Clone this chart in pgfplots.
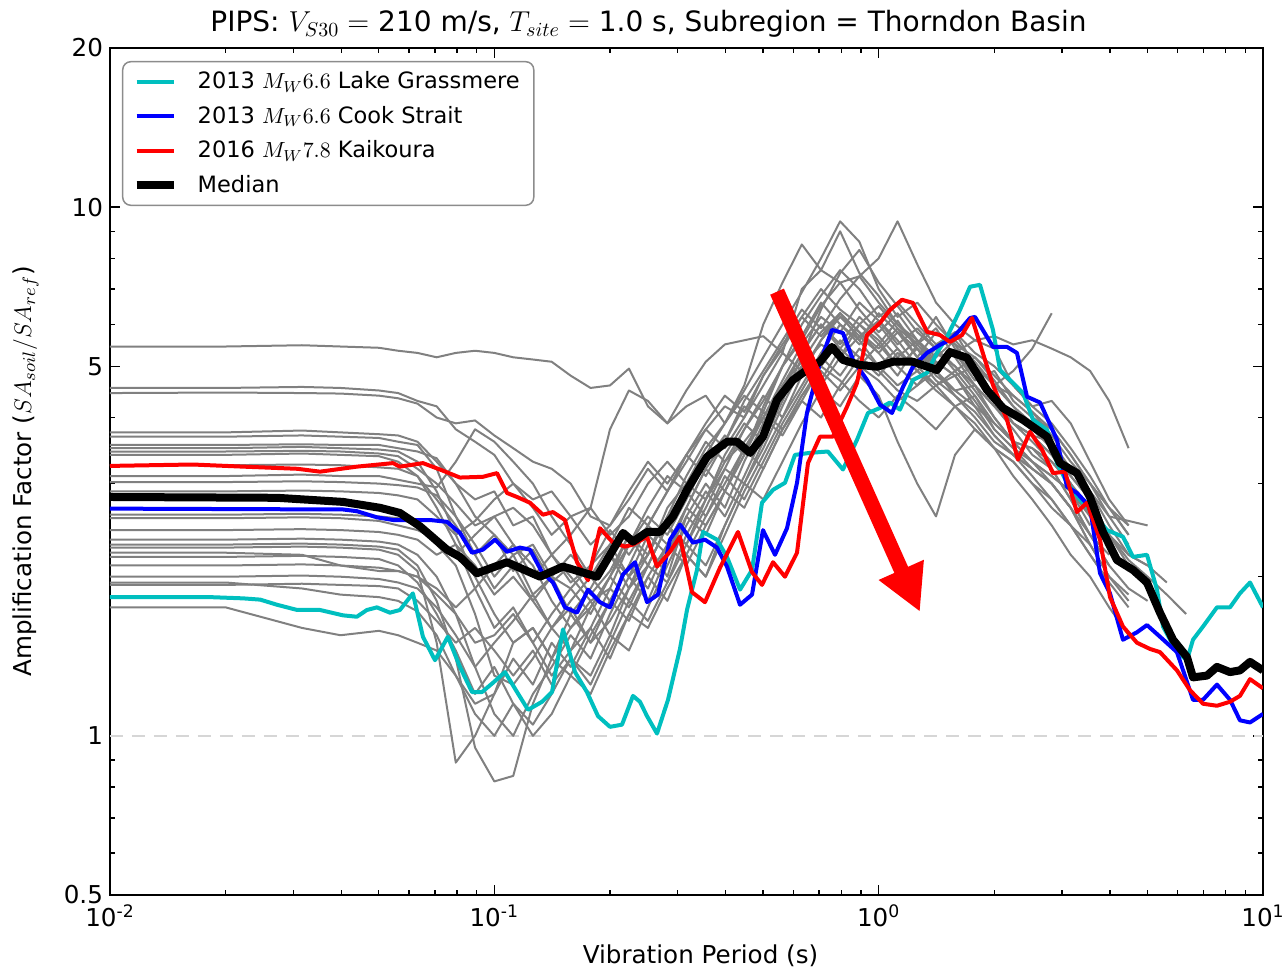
\documentclass[border=0pt]{standalone}
\usepackage[no-math]{fontspec}
\setmainfont{DejaVu Sans}
\usepackage{pgfplots}
\usepackage{pgfplotstable}
\pgfplotsset{compat=1.18}
\usetikzlibrary{arrows.meta}

\definecolor{mplcyan}{rgb}{0,0.75,0.75}
\definecolor{mplgray}{rgb}{0.5,0.5,0.5}
\definecolor{dashgray}{rgb}{0.84,0.84,0.84}
\definecolor{legframe}{rgb}{0.55,0.55,0.55}

\pgfplotstableread{
name 0.01 0.02 0.0316 0.0398 0.0501 0.0562 0.0631 0.0708 0.0794 0.0891 0.1 0.112 0.126 0.141 0.158 0.178 0.2 0.224 0.251 0.282 0.316 0.355 0.398 0.447 0.501 0.562 0.631 0.708 0.794 0.891 1 1.12 1.26 1.41 1.58 1.78 2 2.24 2.51 2.82 3.16 3.55 3.98 4.47 5.01 5.62 6.31
g1 5.45 5.45 5.48 5.45 5.42 5.35 5.3 5.2 5.3 5.35 5.3 5.2 5.15 5.1 4.8 4.55 4.6 4.95 4.2 3.9 4.5 5.1 5.5 5.6 5.7 5.3 7.0 7.6 7.2 7.4 8.0 9.4 7.8 6.6 6.0 5.6 5.4 4.6 4.2 4.3 3.9 3.3 2.8 2.5 nan nan nan
g2 4.55 4.55 4.57 4.55 4.5 4.45 4.3 4.2 3.8 3.6 3.4 3.0 2.8 2.9 2.6 2.7 3.8 4.5 4.3 3.9 4.2 4.4 3.9 4.6 6.0 7.2 8.5 7.6 9.0 7.5 6.8 6.0 5.5 6.2 5.4 5.0 4.6 4.2 3.9 3.5 3.1 2.8 2.4 nan nan nan nan
g3 4.45 4.46 4.45 4.44 4.4 4.35 4.25 4.0 3.9 3.95 3.7 3.5 3.3 3.2 3.0 2.6 2.5 2.8 3.2 2.9 3.3 3.8 4.2 4.0 4.8 5.5 6.2 7.0 6.4 6.0 6.5 5.9 5.2 5.8 5.5 4.8 4.4 3.9 3.7 3.6 3.2 2.9 2.6 2.3 nan nan nan
g4 3.75 3.75 3.78 3.75 3.72 3.7 3.6 3.3 3.0 2.6 2.4 2.2 2.3 2.0 1.9 2.1 2.3 2.0 2.2 2.7 3.0 2.8 3.3 3.6 4.0 4.6 5.1 5.8 6.3 5.6 5.0 5.4 4.9 5.3 5.0 4.5 4.0 3.6 3.5 3.2 2.8 2.4 2.1 nan nan nan nan
g5 3.68 3.68 3.7 3.68 3.66 3.6 3.55 3.2 2.6 2.2 1.9 2.1 1.8 1.6 1.75 1.5 1.65 1.9 2.1 1.95 2.4 2.8 3.2 3.0 3.5 4.2 5.0 5.5 5.2 6.0 5.6 5.0 4.6 5.1 4.8 4.2 3.7 3.4 3.2 3.0 2.7 2.3 2.0 1.85 nan nan nan
g6 3.55 3.55 3.56 3.55 3.55 3.5 3.45 3.35 3.0 2.8 2.9 2.5 2.6 2.2 2.4 2.7 2.4 2.6 3.0 3.3 3.0 3.5 3.9 4.4 4.1 5.0 5.6 6.5 7.2 6.4 5.8 6.3 5.6 5.0 5.3 4.7 4.9 4.3 4.0 3.8 3.4 3.0 2.6 2.55 2.5 nan nan
g7 3.5 3.5 3.52 3.5 3.48 3.45 3.3 2.9 2.4 2.0 1.7 1.5 1.6 1.4 1.6 1.8 1.55 1.9 2.3 2.0 2.6 3.0 2.7 3.3 3.9 4.5 5.3 6.0 5.4 5.0 5.5 6.1 5.4 4.9 4.5 4.6 4.0 3.6 3.3 3.1 2.9 2.5 nan nan nan nan nan
g8 3.45 3.45 3.46 3.45 3.42 3.38 3.2 3.0 2.75 2.5 2.6 2.3 2.0 2.2 1.95 2.1 2.45 2.2 2.5 2.9 3.4 3.1 3.6 4.3 4.9 5.6 6.4 5.9 6.7 7.4 6.6 6.0 5.6 5.2 5.6 5.1 4.6 4.4 4.1 3.7 3.3 3.0 2.7 2.5 nan nan nan
g9 3.4 3.4 3.42 3.4 3.38 3.3 3.1 2.7 2.3 1.9 1.6 1.75 1.5 1.7 1.9 1.7 2.0 2.4 2.1 2.5 2.3 2.8 3.4 3.9 3.6 4.4 5.0 4.6 5.2 5.7 5.3 4.8 5.5 5.9 5.2 4.6 4.2 3.8 3.4 3.2 2.8 2.4 2.2 nan nan nan nan
g10 3.1 3.1 3.12 3.1 3.1 3.05 3.0 2.95 3.3 3.8 3.6 3.3 3.0 2.6 2.3 2.0 2.2 1.9 2.2 2.6 2.9 2.6 3.0 3.5 4.0 4.7 5.5 6.2 5.8 6.6 6.1 5.5 5.9 5.4 4.9 5.2 4.7 4.2 3.8 3.5 3.2 2.9 2.5 2.2 2.1 nan nan
g11 3.02 3.02 3.03 3.02 3.0 2.98 2.95 2.85 2.6 2.3 2.0 2.2 1.85 2.0 1.7 1.9 2.2 2.0 2.4 2.2 2.7 3.2 2.9 3.4 4.1 3.8 4.4 5.0 5.6 5.2 4.8 5.3 5.0 4.6 4.9 4.4 3.9 3.6 3.5 3.3 3.0 2.6 2.3 2.05 nan nan nan
g12 2.62 2.62 2.63 2.62 2.6 2.58 2.5 2.3 2.1 1.7 1.3 1.25 1.4 1.6 1.45 1.75 2.0 1.8 2.1 2.5 2.2 2.6 3.1 2.8 3.3 3.9 4.5 5.2 4.8 5.4 5.0 4.6 4.9 4.5 4.2 4.4 3.8 3.5 3.2 3.0 2.7 2.3 2.0 1.8 nan nan nan
g13 2.58 2.58 2.59 2.58 2.55 2.5 2.45 2.35 2.2 2.4 2.6 2.7 2.5 2.2 2.0 1.8 1.9 2.3 2.6 2.4 2.8 3.3 3.7 3.4 4.2 5.0 6.0 6.8 7.6 7.0 6.2 6.6 6.0 5.5 5.8 5.3 5.0 4.6 4.2 3.9 3.5 3.1 2.7 2.4 nan nan nan
g14 2.35 2.35 2.36 2.35 2.33 2.3 2.2 2.0 1.7 1.35 1.1 1.0 1.2 1.35 1.55 1.4 1.7 2.0 1.8 2.2 2.6 2.4 2.9 3.5 3.2 3.8 4.4 4.9 4.5 5.0 4.7 4.3 4.6 4.9 4.4 4.0 3.6 3.4 3.1 2.8 2.5 2.2 1.95 nan nan nan nan
g15 2.3 2.3 2.31 2.3 2.28 2.25 2.1 1.8 1.4 0.95 0.82 0.84 1.15 1.4 1.3 1.55 1.8 1.65 2.0 2.3 2.1 2.5 2.9 2.7 3.2 3.8 4.3 4.0 4.6 5.2 4.9 4.5 4.3 4.6 4.2 3.8 3.5 3.3 3.0 2.7 2.5 2.3 nan nan nan nan nan
g16 2.27 2.27 2.28 2.27 2.25 2.2 2.05 1.5 0.89 1.0 1.2 1.5 1.6 1.4 1.7 1.5 1.8 2.1 2.5 2.3 2.7 3.2 3.6 4.2 3.9 4.6 5.3 6.0 5.5 6.2 5.7 5.2 5.6 5.1 4.8 5.0 4.4 3.9 3.7 3.4 3.1 2.8 2.4 2.1 1.9 nan nan
g17 2.22 2.22 2.2 2.1 2.05 2.05 2.0 1.85 1.7 1.5 1.55 1.7 1.5 1.3 1.45 1.6 1.4 1.7 2.0 1.8 2.2 2.0 2.5 3.0 3.6 4.3 5.2 6.4 7.5 8.3 7.2 6.5 5.8 5.4 5.0 4.6 4.2 3.9 3.7 3.4 3.0 2.6 2.3 nan nan nan nan
g18 2.18 2.18 2.19 2.18 2.16 2.1 1.95 1.7 1.45 1.2 1.35 1.15 1.0 1.1 1.3 1.2 1.45 1.7 1.6 1.9 2.2 2.0 2.4 2.9 3.4 4.0 4.6 5.3 6.0 5.6 6.3 5.8 5.4 5.0 5.3 4.8 4.3 3.9 3.6 3.3 3.0 2.7 2.4 2.2 2.1 1.95 nan
g19 2.1 2.1 2.11 2.1 2.08 2.05 2.0 1.9 1.75 1.9 2.1 2.3 2.1 1.8 1.6 1.75 2.0 2.3 2.7 3.1 2.9 3.4 3.9 4.5 5.2 6.0 6.9 8.0 9.4 8.6 7.0 6.2 6.6 6.0 5.5 5.2 4.8 4.4 4.1 3.8 3.4 3.0 2.7 2.4 nan nan nan
g20 1.95 1.95 1.9 1.85 1.83 1.8 1.72 1.55 1.3 1.15 1.2 1.4 1.25 1.5 1.35 1.6 1.9 1.75 2.1 2.5 2.3 2.7 3.2 3.8 4.4 4.0 4.8 5.6 6.3 5.8 5.3 5.8 5.2 4.7 4.4 4.1 3.7 3.4 3.2 3.0 2.7 2.4 2.1 1.9 1.8 nan nan
g21 1.93 1.93 1.94 1.93 1.92 1.9 1.8 1.65 1.5 1.6 1.45 1.3 1.45 1.25 1.4 1.3 1.55 1.45 1.75 2.1 2.5 2.9 2.6 3.1 3.7 4.4 5.0 4.7 5.4 6.0 5.5 5.0 5.4 4.8 4.5 4.2 3.9 3.6 3.3 3.0 2.7 nan nan nan nan nan nan
g22 1.75 1.75 1.6 1.55 1.58 1.55 1.5 1.45 1.3 1.1 1.0 1.15 1.05 1.2 1.4 1.25 1.5 1.8 1.65 1.95 2.3 2.1 2.5 3.0 2.8 3.3 3.9 4.5 4.2 4.8 4.4 3.6 3.0 2.6 3.4 3.8 3.5 3.3 3.0 2.8 2.5 2.2 1.95 1.75 nan nan nan
g23 2.45 2.45 2.46 2.45 2.43 2.4 2.35 2.2 2.3 2.1 1.85 2.0 1.8 2.0 2.2 2.0 2.3 2.7 2.5 2.9 3.4 3.8 3.5 4.0 4.6 5.3 4.9 5.6 6.2 5.7 6.1 5.6 5.0 5.4 5.8 5.0 4.6 4.9 5.4 6.3 nan nan nan nan nan nan nan
g24 2.9 2.9 2.91 2.9 2.88 2.85 2.8 2.6 2.4 2.55 2.8 3.0 2.7 2.4 2.6 2.3 2.5 2.9 3.3 3.0 3.4 3.9 4.4 4.1 4.8 5.4 6.2 5.7 6.3 5.8 5.4 5.9 5.5 5.0 5.3 5.6 5.7 5.5 5.6 5.4 5.2 4.9 4.3 3.5 nan nan nan
g25 3.25 3.25 3.26 3.25 3.22 3.2 3.1 2.8 2.5 2.2 2.4 2.05 2.25 1.95 2.1 1.85 2.05 2.4 2.2 2.6 3.1 3.6 3.3 3.8 4.3 5.0 5.7 6.6 6.0 5.5 6.0 5.4 4.9 4.6 4.8 4.3 3.8 3.5 3.3 3.1 2.9 2.6 2.4 2.15 2.0 1.85 1.7
g26 2.0 2.0 2.01 2.0 1.98 1.95 1.9 1.75 1.55 1.35 1.5 1.65 1.85 1.6 1.8 2.0 1.8 2.1 1.9 2.3 2.7 2.5 2.9 3.4 4.0 3.7 4.3 5.0 4.7 4.3 4.0 4.4 4.1 3.8 4.2 3.9 3.5 3.1 2.8 2.5 2.2 2.0 1.75 1.55 nan nan nan
}\grayraw
\pgfplotstabletranspose[colnames from=name, input colnames to=T]\graytab\grayraw

\begin{document}
\begin{tikzpicture}
\begin{axis}[
  scale only axis, width=576.5pt, height=423.5pt,
  xmode=log, ymode=log,
  xmin=0.01, xmax=10, ymin=0.5, ymax=20,
  xtick={0.01,0.1,1,10},
  xticklabels={10\textsuperscript{-2},10\textsuperscript{-1},10\textsuperscript{0},10\textsuperscript{1}},
  minor xtick={0.02,0.03,0.04,0.05,0.06,0.07,0.08,0.09,0.2,0.3,0.4,0.5,0.6,0.7,0.8,0.9,2,3,4,5,6,7,8,9},
  ytick={0.5,1,5,10,20},
  yticklabels={0.5,1,5,10,20},
  minor ytick={0.6,0.7,0.8,0.9,2,3,4,6,7,8,9},
  tick align=inside,
  major tick length=5pt, minor tick length=2.5pt,
  every tick/.style={black, line width=0.75pt},
  axis line style={black, line width=1pt},
  ticklabel style={font=\fontsize{12.3}{14}\selectfont},
  xticklabel style={yshift=-1.5pt},
  xlabel={Vibration Period (s)},
  ylabel={Amplification Factor ($SA_{soil}/SA_{ref}$)},
  every axis x label/.style={at={(axis description cs:0.5,0)}, anchor=base, yshift=-34pt, xshift=7pt, font=\fontsize{12.3}{14}\selectfont},
  every axis y label/.style={at={(axis description cs:-0.0685,0.5)}, anchor=base, rotate=90, font=\fontsize{12.3}{14}\selectfont},
  title={PIPS: $V_{S30} =$ 210 m/s, $T_{site} =$ 1.0 s, Subregion = Thorndon Basin},
  every axis title/.style={at={(axis description cs:0.5,1)}, anchor=base, yshift=8pt, xshift=-19pt, font=\fontsize{14}{16}\selectfont},
  legend cell align=left,
  legend style={at={(axis description cs:0.0104,0.9847)}, anchor=north west,
    draw=legframe, line width=0.75pt, rounded corners=4pt, fill=white,
    font=\fontsize{11.25}{13}\selectfont,
    inner xsep=5pt, inner ysep=3pt, row sep=3.2pt, column sep=8pt},
  legend image code/.code={\draw[#1] (0pt,0pt) -- (18.5pt,0pt);},
]
\addplot[forget plot, dashgray, line width=1pt, dash pattern=on 6.5pt off 4.5pt] coordinates {(0.01,1) (10,1)};

\pgfplotsinvokeforeach{1,...,26}{
  \addplot[forget plot, mplgray, line width=1pt, line join=round] table[x=T, y=g#1] {\graytab};
}

\addplot[mplcyan, line width=2pt, line join=round] coordinates {
(0.01,1.83) (0.0182,1.83) (0.0222,1.82) (0.0246,1.81) (0.0272,1.77) (0.0307,1.73) (0.0352,1.73) (0.0404,1.69) (0.0439,1.68) (0.0466,1.73) (0.0495,1.75) (0.0535,1.71) (0.0568,1.73) (0.0614,1.86) (0.0652,1.54) (0.0701,1.39) (0.0757,1.54) (0.0814,1.35) (0.0875,1.21) (0.0929,1.21) (0.0992,1.26) (0.1066,1.32) (0.1146,1.21) (0.1224,1.12) (0.1331,1.16) (0.1413,1.21) (0.1509,1.59) (0.1622,1.32) (0.1742,1.21) (0.1861,1.09) (0.2000,1.04) (0.2149,1.05) (0.2295,1.19) (0.2393,1.16) (0.2496,1.09) (0.2650,1.01) (0.2831,1.17) (0.3041,1.46) (0.3172,1.73) (0.3368,2.06) (0.3491,2.43) (0.3797,2.35) (0.4031,2.18) (0.4358,1.89) (0.4683,2.06) (0.4971,2.76) (0.5311,2.92) (0.5705,3.01) (0.6058,3.40) (0.6626,3.43) (0.7380,3.45) (0.8075,3.19) (0.8783,3.63) (0.9380,4.08) (1.008,4.17) (1.070,4.27) (1.136,4.14) (1.228,4.71) (1.336,4.86) (1.418,5.30) (1.506,5.68) (1.628,6.39) (1.729,7.07) (1.835,7.13) (1.984,5.86) (2.069,4.92) (2.237,4.65) (2.375,4.45) (2.522,3.96) (2.742,3.79) (2.911,3.28) (3.090,3.01) (3.341,2.80) (3.612,2.64) (3.928,2.45) (4.322,2.38) (4.589,2.18) (4.991,2.20) (5.299,1.89) (5.493,1.61) (5.973,1.44) (6.341,1.39) (6.575,1.52) (6.983,1.61) (7.591,1.75) (8.207,1.75) (8.710,1.86) (9.252,1.95) (10,1.75)
};
\addlegendentry{2013 $M_W 6.6$ Lake Grassmere}

\addplot[blue, line width=2pt, line join=round] coordinates {
(0.01,2.69) (0.0404,2.68) (0.0439,2.66) (0.0495,2.59) (0.0545,2.56) (0.0603,2.56) (0.0680,2.56) (0.0753,2.54) (0.0814,2.42) (0.0875,2.22) (0.0934,2.25) (0.1004,2.35) (0.1079,2.23) (0.1166,2.27) (0.1238,2.25) (0.1331,2.04) (0.1421,1.95) (0.1527,1.75) (0.1641,1.71) (0.1753,1.89) (0.1883,1.79) (0.2000,1.75) (0.2162,2.02) (0.2323,2.13) (0.2496,1.79) (0.2666,1.85) (0.2865,2.35) (0.3041,2.51) (0.3288,2.32) (0.3533,2.35) (0.3797,2.27) (0.4031,2.09) (0.4358,1.77) (0.4683,1.85) (0.500,2.45) (0.5374,2.20) (0.5775,2.47) (0.6132,3.01) (0.6508,4.08) (0.7036,5.08) (0.7560,5.86) (0.8075,5.78) (0.8575,5.14) (0.9325,4.71) (1.008,4.23) (1.083,4.08) (1.157,4.57) (1.228,4.99) (1.336,5.30) (1.444,5.49) (1.533,5.61) (1.628,5.86) (1.729,6.17) (1.781,6.20) (1.984,5.44) (2.158,5.44) (2.290,5.30) (2.432,4.38) (2.630,4.27) (2.911,3.63) (3.090,2.96) (3.281,2.88) (3.547,2.71) (3.767,2.03) (3.999,1.86) (4.322,1.52) (4.700,1.57) (4.991,1.62) (5.395,1.54) (5.973,1.44) (6.575,1.17) (6.983,1.17) (7.591,1.25) (8.207,1.17) (8.710,1.07) (9.252,1.06) (10,1.10)
};
\addlegendentry{2013 $M_W 6.6$ Cook Strait}

\addplot[red, line width=2pt, line join=round] coordinates {
(0.01,3.24) (0.0164,3.26) (0.0222,3.23) (0.0307,3.20) (0.0352,3.16) (0.0439,3.23) (0.0545,3.28) (0.0568,3.23) (0.0652,3.28) (0.0722,3.19) (0.0814,3.08) (0.0934,3.09) (0.1016,3.14) (0.1079,2.88) (0.1146,2.83) (0.1238,2.76) (0.1338,2.62) (0.1421,2.65) (0.1527,2.56) (0.1641,2.13) (0.1753,1.97) (0.1883,2.47) (0.2036,2.32) (0.2188,2.28) (0.2295,2.30) (0.2496,2.38) (0.2650,2.09) (0.2865,2.23) (0.3041,2.38) (0.3268,1.87) (0.3533,1.79) (0.3866,2.08) (0.4305,2.43) (0.4683,2.04) (0.4971,1.93) (0.5311,2.13) (0.5705,2.00) (0.6132,2.22) (0.6548,3.28) (0.7036,3.68) (0.7605,3.68) (0.8270,4.19) (0.8783,4.65) (0.9325,5.73) (1.008,6.04) (1.070,6.39) (1.150,6.68) (1.228,6.59) (1.336,5.81) (1.444,5.73) (1.533,5.56) (1.648,5.73) (1.749,6.17) (1.891,5.14) (1.984,4.61) (2.158,3.96) (2.304,3.33) (2.476,3.76) (2.661,3.48) (2.842,3.14) (3.053,3.16) (3.281,2.65) (3.484,2.76) (3.767,2.35) (3.999,1.83) (4.322,1.61) (4.700,1.50) (5.082,1.46) (5.395,1.44) (5.973,1.33) (6.458,1.22) (6.983,1.15) (7.591,1.14) (8.207,1.16) (8.710,1.19) (9.252,1.28) (10,1.23)
};
\addlegendentry{2016 $M_W 7.8$ Kaikoura}

\addplot[black, line width=4pt, line join=round] coordinates {
(0.01,2.83) (0.0272,2.82) (0.0404,2.77) (0.0504,2.70) (0.0568,2.64) (0.0641,2.49) (0.0753,2.25) (0.0814,2.18) (0.0901,2.03) (0.1079,2.13) (0.1315,2.00) (0.1509,2.09) (0.1850,2.00) (0.2162,2.42) (0.2295,2.33) (0.2496,2.43) (0.2698,2.43) (0.2917,2.60) (0.3172,2.92) (0.3575,3.37) (0.4031,3.60) (0.4279,3.60) (0.4626,3.43) (0.500,3.68) (0.5439,4.32) (0.5985,4.71) (0.6508,4.92) (0.7036,5.10) (0.7560,5.44) (0.8075,5.14) (0.8941,5.03) (0.9901,4.99) (1.090,5.10) (1.228,5.10) (1.418,4.92) (1.533,5.32) (1.698,5.19) (1.914,4.51) (2.106,4.17) (2.375,3.96) (2.742,3.68) (2.964,3.28) (3.281,3.14) (3.547,2.83) (3.834,2.43) (4.170,2.15) (4.589,2.06) (4.991,1.95) (5.395,1.71) (5.832,1.52) (6.341,1.41) (6.575,1.29) (7.150,1.30) (7.591,1.35) (8.207,1.32) (8.710,1.33) (9.252,1.38) (10,1.33)
};
\addlegendentry{Median}

\draw[red, line width=7.5pt, -{Triangle[width=23pt,length=23pt]}] (axis cs:0.544,6.92) -- (axis cs:1.281,1.716);
\end{axis}
\pgfresetboundingbox
\path ([xshift=-55pt,yshift=-37pt]current axis.south west) rectangle ([xshift=12.5pt,yshift=24pt]current axis.north east);
\end{tikzpicture}
\end{document}
